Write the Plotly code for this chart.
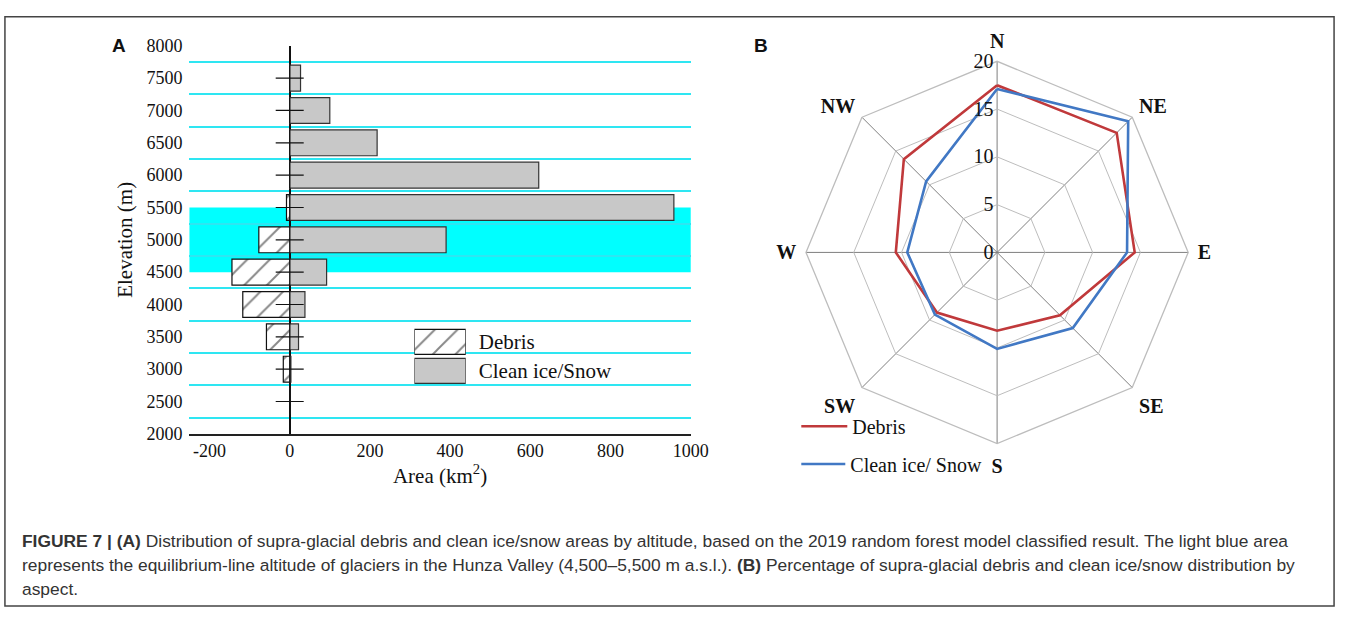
import plotly.graph_objects as go

# ---------------- data ----------------
elevations = [7500, 7000, 6500, 6000, 5500, 5000, 4500, 4000, 3500, 3000, 2500]
clean_area = [27, 100, 218, 621, 958, 390, 92, 38, 22, 3, 0]
debris_area = [0, 0, 0, 0, -8, -77, -144, -117, -58, -16, 0]
elev_ticks = [2000, 2500, 3000, 3500, 4000, 4500, 5000, 5500, 6000, 6500, 7000, 7500, 8000]
cyan_lines = [2250, 2750, 3250, 3750, 4250, 4750, 5250, 5750, 6250, 6750, 7250, 7750]
area_ticks = [-200, 0, 200, 400, 600, 800, 1000]
ela_band = [4500, 5500]

aspects = ["N", "NE", "E", "SE", "S", "SW", "W", "NW"]
debris_pct = [17.5, 17.7, 14.4, 9.3, 8.2, 8.9, 10.6, 13.8]
clean_pct = [17.1, 19.4, 13.6, 11.2, 10.1, 9.2, 9.4, 10.5]
radial_ticks = [0, 5, 10, 15, 20]

legend_a_items = ["Clean ice/Snow", "Debris"]

W, H = 1357, 619
def px(x):
    return x / W
def py(y):
    return 1 - y / H

SERIF = "Liberation Serif"
SANS = "Liberation Sans"
HATCH = dict(shape="/", fgcolor="#111111", bgcolor="white", size=16, solidity=0.12)

fig = go.Figure()

# ---------------- panel A ----------------
fig.add_trace(go.Bar(
    y=elevations, x=clean_area, orientation="h", width=400,
    marker=dict(color="#c8c8c8", line=dict(color="#333333", width=1.2)),
    xaxis="x", yaxis="y", showlegend=False, name="Clean ice/Snow"))
fig.add_trace(go.Bar(
    y=elevations, x=debris_area, orientation="h", width=400,
    marker=dict(color="white", line=dict(color="#111111", width=1.2), pattern=HATCH),
    xaxis="x", yaxis="y", showlegend=False, name="Debris"))
# small cross ticks on the zero line
fig.add_trace(go.Scatter(
    x=[0] * len(elevations), y=elevations, mode="markers",
    marker=dict(symbol="line-ew", size=20, line=dict(color="#111111", width=1.2)),
    xaxis="x", yaxis="y", showlegend=False, hoverinfo="skip"))

# legend key for panel A drawn as a tiny bar chart
fig.add_trace(go.Bar(
    y=["Debris"], x=[1], orientation="h", width=0.86,
    marker=dict(color="white", line=dict(color="#111111", width=1.2), pattern=HATCH),
    xaxis="x3", yaxis="y3", showlegend=False, hoverinfo="skip"))
fig.add_trace(go.Bar(
    y=["Clean ice/Snow"], x=[1], orientation="h", width=0.86,
    marker=dict(color="#c8c8c8", line=dict(color="#333333", width=1.2)),
    xaxis="x3", yaxis="y3", showlegend=False, hoverinfo="skip"))

# ---------------- panel B ----------------
fig.add_trace(go.Scatterpolar(
    r=debris_pct + debris_pct[:1], theta=aspects + aspects[:1], mode="lines",
    line=dict(color="#c0393b", width=2.6), name="Debris", legend="legend"))
fig.add_trace(go.Scatterpolar(
    r=clean_pct + clean_pct[:1], theta=aspects + aspects[:1], mode="lines",
    line=dict(color="#4178c4", width=2.6), name="Clean ice/ Snow", legend="legend2"))

fig.update_layout(
    width=W, height=H,
    margin=dict(l=0, r=0, t=0, b=0),
    paper_bgcolor="white", plot_bgcolor="rgba(0,0,0,0)",
    barmode="overlay",
    font=dict(family=SERIF, size=18, color="#111111"),
    xaxis=dict(domain=[px(192), px(700)], range=[-250, 1000],
               tickvals=area_ticks, ticktext=[str(v) for v in area_ticks],
               showgrid=False, zeroline=True,
               zerolinecolor="#111111", zerolinewidth=1.6,
               showline=True, linecolor="#222222", linewidth=1.6,
               ticks="", tickfont=dict(family=SERIF, size=18),
               title=dict(text="Area (km<sup>2</sup>)", font=dict(family=SERIF, size=21),
                          standoff=2)),
    yaxis=dict(domain=[py(438), py(37)], range=[2000, 8000],
               tickvals=elev_ticks, showgrid=False, zeroline=False,
               showline=False, ticks="", ticklabelstandoff=6,
               tickfont=dict(family=SERIF, size=18),
               minor=dict(tickvals=cyan_lines, showgrid=True,
                          gridcolor="#2ee6f2", gridwidth=1.6, ticks=""),
               title=dict(text="Elevation (m)", font=dict(family=SERIF, size=21),
                          standoff=8)),
    xaxis3=dict(domain=[px(420), px(472)], range=[0, 1], visible=False, fixedrange=True),
    yaxis3=dict(domain=[py(388), py(328)], type="category",
                categoryorder="array", categoryarray=legend_a_items,
                side="right", anchor="x3", showgrid=False, zeroline=False,
                showline=False, ticks="", ticklabelstandoff=12,
                tickfont=dict(family=SERIF, size=21)),
    polar=dict(
        domain=dict(x=[px(813), px(1208)], y=[py(448), py(53)]),
        bgcolor="rgba(0,0,0,0)",
        gridshape="linear",
        angularaxis=dict(direction="clockwise", rotation=90, type="category",
                         categoryarray=aspects,
                         linecolor="#bdbdbd", linewidth=1.3,
                         gridcolor="#7f7f7f", gridwidth=1.3,
                         ticks="outside", ticklen=5, tickcolor="rgba(0,0,0,0)",
                         showline=True,
                         tickfont=dict(family=SERIF, size=20, weight="bold", color="#111111")),
        radialaxis=dict(range=[0, 20], tickvals=radial_ticks, angle=90,
                        tickangle=90, side="counterclockwise",
                        showline=False, ticks="",
                        gridcolor="#bdbdbd", gridwidth=1.3,
                        tickfont=dict(family=SERIF, size=20, color="#111111")),
    ),
    legend=dict(x=px(807), y=py(410), xanchor="left", yanchor="top", itemwidth=46,
                bgcolor="rgba(0,0,0,0)", font=dict(family=SERIF, size=20)),
    legend2=dict(x=px(807), y=py(449), xanchor="left", yanchor="top", itemwidth=44,
                 bgcolor="rgba(0,0,0,0)", font=dict(family=SERIF, size=20)),
    shapes=[
        dict(type="rect", xref="x domain", yref="y", x0=0, x1=1,
             y0=ela_band[0], y1=ela_band[1], fillcolor="#00ffff",
             line=dict(width=0), layer="below"),
        dict(type="rect", xref="paper", yref="paper", x0=px(5), x1=px(1352),
             y0=py(616), y1=py(7), line=dict(color="#444444", width=1.5)),
    ],
)

CAP = dict(family=SANS, size=17.4, color="#333333")
annotations = [
    dict(text="<b>A</b>", x=px(121), y=py(37), font=dict(family=SANS, size=19, color="#111111")),
    dict(text="<b>B</b>", x=px(771), y=py(37), font=dict(family=SANS, size=19, color="#111111")),
    dict(text="<b>FIGURE 7 | (A)</b> Distribution of supra-glacial debris and clean ice/snow areas by altitude, "
              "based on the 2019 random forest model classified result. The light blue area",
         x=px(20), y=py(549), xanchor="left", font=CAP),
    dict(text="represents the equilibrium-line altitude of glaciers in the Hunza Valley (4,500–5,500 m a.s.l.). "
              "<b>(B)</b> Percentage of supra-glacial debris and clean ice/snow distribution by",
         x=px(20), y=py(574), xanchor="left", font=CAP),
    dict(text="aspect.", x=px(20), y=py(598), xanchor="left", font=CAP),
]
for a in annotations:
    a.setdefault("xanchor", "center")
    a.update(xref="paper", yref="paper", yanchor="middle", showarrow=False)
fig.update_layout(annotations=annotations)

fig.write_html("out.html", config={"displayModeBar": False},
               post_script="document.body.style.margin='0';document.body.style.overflow='hidden';")
